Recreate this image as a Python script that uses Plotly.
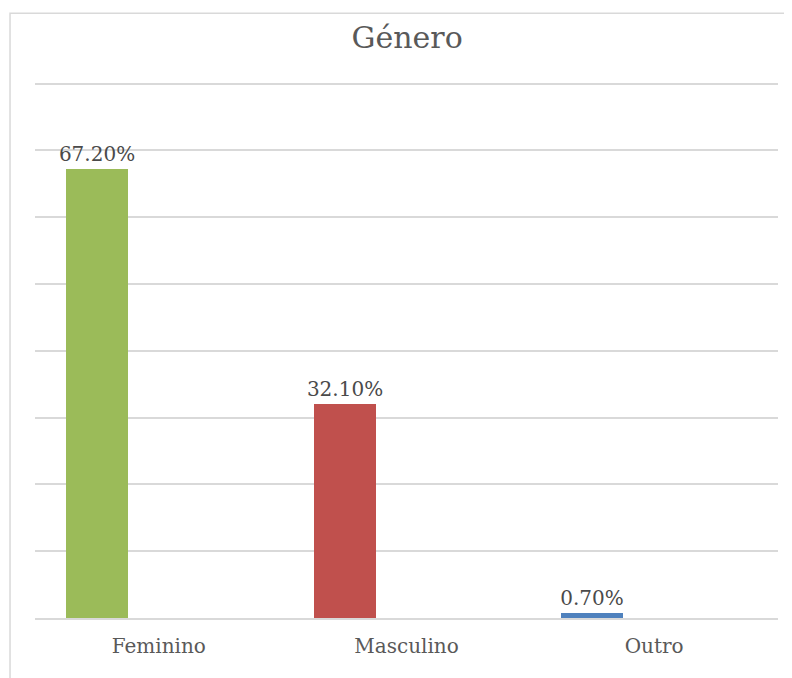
import plotly.graph_objects as go

# --- Data ---
categorias = ["Feminino", "Masculino", "Outro"]
percentagens = [67.2, 32.1, 0.7]
cores = ["#9BBB59", "#C0504D", "#4F81BD"]

fonte = "DejaVu Serif"
cinza = "#D9D9D9"

fig = go.Figure(go.Bar(
    x=categorias, y=percentagens,
    marker=dict(color=cores, line=dict(width=0)),
    width=0.25, offset=-0.375,
    texttemplate="%{y:.2f}%", textposition="outside", constraintext="none",
    textfont=dict(family=fonte, size=20, color="#4a4a4a"),
    cliponaxis=False, showlegend=False,
))

# the page body adds an 8px margin, so the margins below are shifted by 8
fig.update_layout(
    width=792, height=678,
    paper_bgcolor="white", plot_bgcolor="white",
    margin=dict(l=27, r=22, t=69, b=68),
    title=dict(text="Género", x=0.504, xanchor="center", y=0.956, yanchor="middle",
               font=dict(family=fonte, size=30, color="#595959")),
    font=dict(family=fonte, color="#595959"),
    bargap=0,
    xaxis=dict(showgrid=False, showline=True, linecolor=cinza, linewidth=2,
               ticks="", ticklabelstandoff=9,
               tickfont=dict(family=fonte, size=20, color="#595959")),
    yaxis=dict(range=[0, 81], dtick=10, showticklabels=False, showline=False,
               gridcolor=cinza, gridwidth=1.5, zeroline=False, ticks=""),
    shapes=[dict(type="path", xref="paper", yref="paper",
                 path="M -0.0336 -0.2 L -0.0336 1.118 L 1.05 1.118",
                 line=dict(color=cinza, width=1.5))],
)

fig.write_html("out.html")
